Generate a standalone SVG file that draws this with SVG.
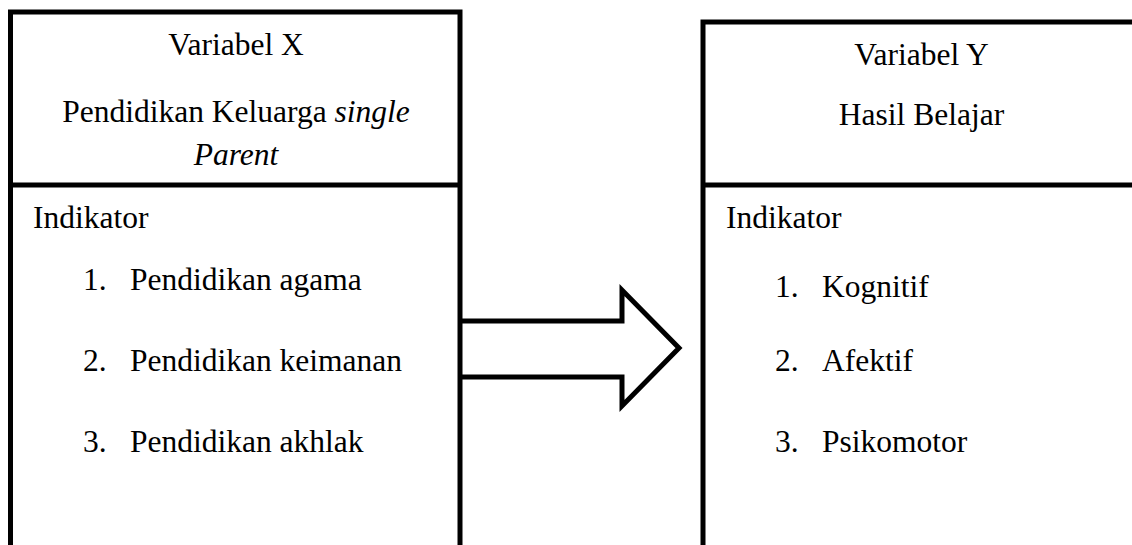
<svg xmlns="http://www.w3.org/2000/svg" width="1132" height="545" viewBox="0 0 1132 545">
<style>
.box{fill:#fff;stroke:#000;stroke-width:5}
.ln{fill:none;stroke:#000;stroke-width:5}
text{font-family:"Liberation Serif","Times New Roman",serif;font-size:31.5px;fill:#000}
.c{text-anchor:middle}
.i{font-style:italic}
</style>
<rect width="1132" height="545" fill="#fff"/>
<g id="node-x">
<rect class="box" x="10.5" y="12" width="449.5" height="560"/>
<line class="ln" x1="10.5" y1="185" x2="460" y2="185"/>
<text class="c" x="236" y="55">Variabel X</text>
<text class="c" x="236" y="122">Pendidikan Keluarga <tspan class="i">single</tspan></text>
<text class="c i" x="236" y="165">Parent</text>
<text x="33" y="228">Indikator</text>
<text x="83" y="290">1.</text><text x="130" y="290">Pendidikan agama</text>
<text x="83" y="371">2.</text><text x="130" y="371">Pendidikan keimanan</text>
<text x="83" y="452">3.</text><text x="130" y="452">Pendidikan akhlak</text>
</g>
<g id="node-y">
<rect class="box" x="703" y="22" width="460" height="560"/>
<line class="ln" x1="703" y1="185" x2="1140" y2="185"/>
<text class="c" x="921.5" y="65">Variabel Y</text>
<text class="c" x="921.5" y="125">Hasil Belajar</text>
<text x="726" y="228">Indikator</text>
<text x="775" y="297">1.</text><text x="822" y="297">Kognitif</text>
<text x="775" y="371">2.</text><text x="822" y="371">Afektif</text>
<text x="775" y="452">3.</text><text x="822" y="452">Psikomotor</text>
</g>
<g id="connectors">
<path class="ln" d="M460,321 H622 V290 L679,348 L622,406 V377 H460"/>
</g>
</svg>
